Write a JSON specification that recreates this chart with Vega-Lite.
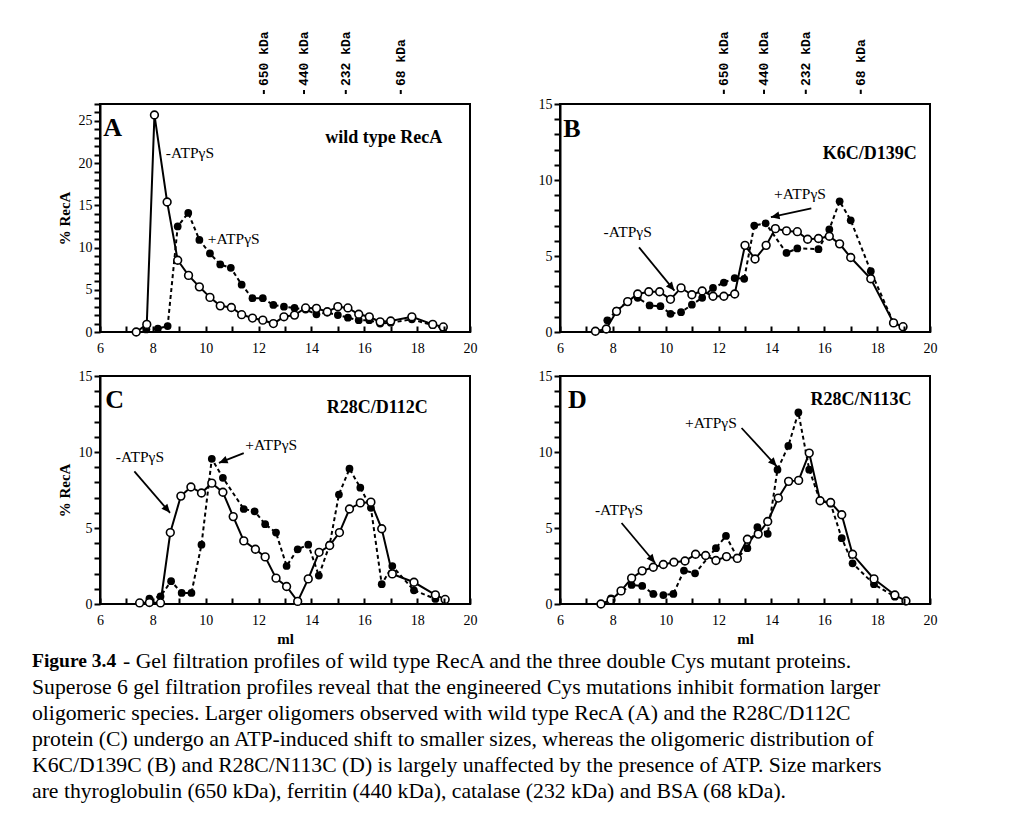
{
  "$schema": "https://vega.github.io/schema/vega-lite/v6.json",
  "background": "white",
  "padding": {"left": 32, "top": 30, "right": 10, "bottom": 10},
  "columns": 2,
  "bounds": "flush",
  "spacing": {"row": 44, "column": 90},
  "datasets": {
    "profiles": [
      {"panel":"A","series":"-ATPγS","ml":7.37,"pct":0},{"panel":"A","series":"-ATPγS","ml":7.77,"pct":0.9},{"panel":"A","series":"-ATPγS","ml":8.06,"pct":25.7},{"panel":"A","series":"-ATPγS","ml":8.54,"pct":15.4},{"panel":"A","series":"-ATPγS","ml":8.94,"pct":8.5},{"panel":"A","series":"-ATPγS","ml":9.35,"pct":6.7},{"panel":"A","series":"-ATPγS","ml":9.76,"pct":5.35},{"panel":"A","series":"-ATPγS","ml":10.16,"pct":4.1},{"panel":"A","series":"-ATPγS","ml":10.55,"pct":3.1},{"panel":"A","series":"-ATPγS","ml":10.97,"pct":2.9},{"panel":"A","series":"-ATPγS","ml":11.36,"pct":2.05},{"panel":"A","series":"-ATPγS","ml":11.77,"pct":1.65},{"panel":"A","series":"-ATPγS","ml":12.16,"pct":1.4},{"panel":"A","series":"-ATPγS","ml":12.56,"pct":1.0},{"panel":"A","series":"-ATPγS","ml":12.96,"pct":1.8},{"panel":"A","series":"-ATPγS","ml":13.36,"pct":2.0},{"panel":"A","series":"-ATPγS","ml":13.78,"pct":2.85},{"panel":"A","series":"-ATPγS","ml":14.19,"pct":2.8},{"panel":"A","series":"-ATPγS","ml":14.6,"pct":2.4},{"panel":"A","series":"-ATPγS","ml":15.0,"pct":3.0},{"panel":"A","series":"-ATPγS","ml":15.38,"pct":2.85},{"panel":"A","series":"-ATPγS","ml":15.79,"pct":2.1},{"panel":"A","series":"-ATPγS","ml":16.19,"pct":1.8},{"panel":"A","series":"-ATPγS","ml":16.6,"pct":1.2},{"panel":"A","series":"-ATPγS","ml":17.0,"pct":1.3},{"panel":"A","series":"-ATPγS","ml":17.8,"pct":1.8},{"panel":"A","series":"-ATPγS","ml":18.59,"pct":0.9},{"panel":"A","series":"-ATPγS","ml":18.99,"pct":0.6},
      {"panel":"A","series":"+ATPγS","ml":7.75,"pct":0.3},{"panel":"A","series":"+ATPγS","ml":8.19,"pct":0.4},{"panel":"A","series":"+ATPγS","ml":8.56,"pct":0.7},{"panel":"A","series":"+ATPγS","ml":8.94,"pct":12.5},{"panel":"A","series":"+ATPγS","ml":9.34,"pct":14.1},{"panel":"A","series":"+ATPγS","ml":9.76,"pct":10.9},{"panel":"A","series":"+ATPγS","ml":10.16,"pct":9.3},{"panel":"A","series":"+ATPγS","ml":10.55,"pct":8.0},{"panel":"A","series":"+ATPγS","ml":10.95,"pct":7.6},{"panel":"A","series":"+ATPγS","ml":11.36,"pct":5.6},{"panel":"A","series":"+ATPγS","ml":11.77,"pct":4.0},{"panel":"A","series":"+ATPγS","ml":12.16,"pct":4.0},{"panel":"A","series":"+ATPγS","ml":12.56,"pct":3.2},{"panel":"A","series":"+ATPγS","ml":12.96,"pct":3.0},{"panel":"A","series":"+ATPγS","ml":13.36,"pct":2.85},{"panel":"A","series":"+ATPγS","ml":13.78,"pct":2.65},{"panel":"A","series":"+ATPγS","ml":14.19,"pct":2.1},{"panel":"A","series":"+ATPγS","ml":14.6,"pct":2.3},{"panel":"A","series":"+ATPγS","ml":15.0,"pct":2.0},{"panel":"A","series":"+ATPγS","ml":15.38,"pct":1.7},{"panel":"A","series":"+ATPγS","ml":15.79,"pct":1.4},{"panel":"A","series":"+ATPγS","ml":16.19,"pct":1.4},{"panel":"A","series":"+ATPγS","ml":16.6,"pct":1.0},{"panel":"A","series":"+ATPγS","ml":17.0,"pct":1.1},{"panel":"A","series":"+ATPγS","ml":17.8,"pct":1.5},{"panel":"A","series":"+ATPγS","ml":18.59,"pct":0.8},{"panel":"A","series":"+ATPγS","ml":18.99,"pct":0.4},
      {"panel":"B","series":"-ATPγS","ml":7.34,"pct":0.05},{"panel":"B","series":"-ATPγS","ml":7.75,"pct":0.2},{"panel":"B","series":"-ATPγS","ml":8.14,"pct":1.36},{"panel":"B","series":"-ATPγS","ml":8.56,"pct":2.0},{"panel":"B","series":"-ATPγS","ml":8.94,"pct":2.5},{"panel":"B","series":"-ATPγS","ml":9.36,"pct":2.65},{"panel":"B","series":"-ATPγS","ml":9.77,"pct":2.65},{"panel":"B","series":"-ATPγS","ml":10.18,"pct":2.15},{"panel":"B","series":"-ATPγS","ml":10.58,"pct":2.9},{"panel":"B","series":"-ATPγS","ml":10.99,"pct":2.45},{"panel":"B","series":"-ATPγS","ml":11.38,"pct":2.7},{"panel":"B","series":"-ATPγS","ml":11.79,"pct":2.35},{"panel":"B","series":"-ATPγS","ml":12.2,"pct":2.35},{"panel":"B","series":"-ATPγS","ml":12.61,"pct":2.5},{"panel":"B","series":"-ATPγS","ml":13.0,"pct":5.7},{"panel":"B","series":"-ATPγS","ml":13.38,"pct":4.8},{"panel":"B","series":"-ATPγS","ml":13.8,"pct":5.7},{"panel":"B","series":"-ATPγS","ml":14.15,"pct":6.8},{"panel":"B","series":"-ATPγS","ml":14.57,"pct":6.65},{"panel":"B","series":"-ATPγS","ml":14.98,"pct":6.6},{"panel":"B","series":"-ATPγS","ml":15.37,"pct":6.1},{"panel":"B","series":"-ATPγS","ml":15.78,"pct":6.15},{"panel":"B","series":"-ATPγS","ml":16.19,"pct":6.3},{"panel":"B","series":"-ATPγS","ml":16.58,"pct":5.8},{"panel":"B","series":"-ATPγS","ml":17.0,"pct":4.9},{"panel":"B","series":"-ATPγS","ml":17.76,"pct":3.5},{"panel":"B","series":"-ATPγS","ml":18.62,"pct":0.6},{"panel":"B","series":"-ATPγS","ml":18.98,"pct":0.35},
      {"panel":"B","series":"+ATPγS","ml":7.79,"pct":0.77},{"panel":"B","series":"+ATPγS","ml":8.14,"pct":1.4},{"panel":"B","series":"+ATPγS","ml":8.56,"pct":2.0},{"panel":"B","series":"+ATPγS","ml":8.94,"pct":2.25},{"panel":"B","series":"+ATPγS","ml":9.39,"pct":1.75},{"panel":"B","series":"+ATPγS","ml":9.8,"pct":1.7},{"panel":"B","series":"+ATPγS","ml":10.18,"pct":1.2},{"panel":"B","series":"+ATPγS","ml":10.58,"pct":1.3},{"panel":"B","series":"+ATPγS","ml":10.99,"pct":1.8},{"panel":"B","series":"+ATPγS","ml":11.38,"pct":2.25},{"panel":"B","series":"+ATPγS","ml":11.79,"pct":2.9},{"panel":"B","series":"+ATPγS","ml":12.2,"pct":3.25},{"panel":"B","series":"+ATPγS","ml":12.61,"pct":3.55},{"panel":"B","series":"+ATPγS","ml":12.97,"pct":3.5},{"panel":"B","series":"+ATPγS","ml":13.35,"pct":7.0},{"panel":"B","series":"+ATPγS","ml":13.78,"pct":7.15},{"panel":"B","series":"+ATPγS","ml":14.57,"pct":5.2},{"panel":"B","series":"+ATPγS","ml":14.98,"pct":5.5},{"panel":"B","series":"+ATPγS","ml":15.78,"pct":5.45},{"panel":"B","series":"+ATPγS","ml":16.19,"pct":6.75},{"panel":"B","series":"+ATPγS","ml":16.58,"pct":8.6},{"panel":"B","series":"+ATPγS","ml":17.0,"pct":7.35},{"panel":"B","series":"+ATPγS","ml":17.76,"pct":4.0},{"panel":"B","series":"+ATPγS","ml":18.62,"pct":0.6},{"panel":"B","series":"+ATPγS","ml":18.98,"pct":0.35},
      {"panel":"C","series":"-ATPγS","ml":7.5,"pct":0.07},{"panel":"C","series":"-ATPγS","ml":7.87,"pct":0.1},{"panel":"C","series":"-ATPγS","ml":8.29,"pct":0.07},{"panel":"C","series":"-ATPγS","ml":8.66,"pct":4.7},{"panel":"C","series":"-ATPγS","ml":9.06,"pct":7.1},{"panel":"C","series":"-ATPγS","ml":9.44,"pct":7.7},{"panel":"C","series":"-ATPγS","ml":9.84,"pct":7.3},{"panel":"C","series":"-ATPγS","ml":10.23,"pct":7.95},{"panel":"C","series":"-ATPγS","ml":10.65,"pct":7.35},{"panel":"C","series":"-ATPγS","ml":11.04,"pct":5.75},{"panel":"C","series":"-ATPγS","ml":11.44,"pct":4.15},{"panel":"C","series":"-ATPγS","ml":11.88,"pct":3.6},{"panel":"C","series":"-ATPγS","ml":12.25,"pct":3.1},{"panel":"C","series":"-ATPγS","ml":12.66,"pct":1.7},{"panel":"C","series":"-ATPγS","ml":13.06,"pct":1.15},{"panel":"C","series":"-ATPγS","ml":13.48,"pct":0.17},{"panel":"C","series":"-ATPγS","ml":13.88,"pct":1.65},{"panel":"C","series":"-ATPγS","ml":14.29,"pct":3.4},{"panel":"C","series":"-ATPγS","ml":14.69,"pct":3.85},{"panel":"C","series":"-ATPγS","ml":15.06,"pct":4.7},{"panel":"C","series":"-ATPγS","ml":15.44,"pct":6.25},{"panel":"C","series":"-ATPγS","ml":15.85,"pct":6.65},{"panel":"C","series":"-ATPγS","ml":16.25,"pct":6.7},{"panel":"C","series":"-ATPγS","ml":16.66,"pct":4.95},{"panel":"C","series":"-ATPγS","ml":17.06,"pct":1.98},{"panel":"C","series":"-ATPγS","ml":17.88,"pct":1.43},{"panel":"C","series":"-ATPγS","ml":18.69,"pct":0.6},{"panel":"C","series":"-ATPγS","ml":19.06,"pct":0.3},
      {"panel":"C","series":"+ATPγS","ml":7.87,"pct":0.35},{"panel":"C","series":"+ATPγS","ml":8.29,"pct":0.5},{"panel":"C","series":"+ATPγS","ml":8.69,"pct":1.5},{"panel":"C","series":"+ATPγS","ml":9.09,"pct":0.73},{"panel":"C","series":"+ATPγS","ml":9.46,"pct":0.73},{"panel":"C","series":"+ATPγS","ml":9.84,"pct":3.9},{"panel":"C","series":"+ATPγS","ml":10.23,"pct":9.55},{"panel":"C","series":"+ATPγS","ml":10.65,"pct":8.3},{"panel":"C","series":"+ATPγS","ml":11.44,"pct":6.25},{"panel":"C","series":"+ATPγS","ml":11.85,"pct":6.1},{"panel":"C","series":"+ATPγS","ml":12.25,"pct":5.25},{"panel":"C","series":"+ATPγS","ml":12.66,"pct":4.7},{"panel":"C","series":"+ATPγS","ml":13.06,"pct":2.5},{"panel":"C","series":"+ATPγS","ml":13.48,"pct":3.6},{"panel":"C","series":"+ATPγS","ml":13.88,"pct":3.9},{"panel":"C","series":"+ATPγS","ml":14.28,"pct":1.87},{"panel":"C","series":"+ATPγS","ml":14.69,"pct":3.9},{"panel":"C","series":"+ATPγS","ml":15.04,"pct":7.2},{"panel":"C","series":"+ATPγS","ml":15.44,"pct":8.9},{"panel":"C","series":"+ATPγS","ml":15.85,"pct":7.65},{"panel":"C","series":"+ATPγS","ml":16.25,"pct":6.33},{"panel":"C","series":"+ATPγS","ml":16.66,"pct":1.3},{"panel":"C","series":"+ATPγS","ml":17.06,"pct":2.5},{"panel":"C","series":"+ATPγS","ml":17.88,"pct":0.9},{"panel":"C","series":"+ATPγS","ml":18.69,"pct":0.33},
      {"panel":"D","series":"-ATPγS","ml":7.55,"pct":0},{"panel":"D","series":"-ATPγS","ml":7.93,"pct":0.26},{"panel":"D","series":"-ATPγS","ml":8.31,"pct":0.86},{"panel":"D","series":"-ATPγS","ml":8.71,"pct":1.7},{"panel":"D","series":"-ATPγS","ml":9.11,"pct":2.18},{"panel":"D","series":"-ATPγS","ml":9.53,"pct":2.42},{"panel":"D","series":"-ATPγS","ml":9.91,"pct":2.6},{"panel":"D","series":"-ATPγS","ml":10.31,"pct":2.75},{"panel":"D","series":"-ATPγS","ml":10.73,"pct":2.83},{"panel":"D","series":"-ATPγS","ml":11.13,"pct":3.27},{"panel":"D","series":"-ATPγS","ml":11.51,"pct":3.19},{"panel":"D","series":"-ATPγS","ml":11.9,"pct":2.86},{"panel":"D","series":"-ATPγS","ml":12.3,"pct":3.12},{"panel":"D","series":"-ATPγS","ml":12.71,"pct":3.0},{"panel":"D","series":"-ATPγS","ml":13.09,"pct":4.26},{"panel":"D","series":"-ATPγS","ml":13.5,"pct":4.6},{"panel":"D","series":"-ATPγS","ml":13.86,"pct":5.43},{"panel":"D","series":"-ATPγS","ml":14.26,"pct":6.97},{"panel":"D","series":"-ATPγS","ml":14.65,"pct":8.07},{"panel":"D","series":"-ATPγS","ml":15.03,"pct":8.13},{"panel":"D","series":"-ATPγS","ml":15.43,"pct":9.93},{"panel":"D","series":"-ATPγS","ml":15.84,"pct":6.79},{"panel":"D","series":"-ATPγS","ml":16.24,"pct":6.68},{"panel":"D","series":"-ATPγS","ml":16.66,"pct":5.87},{"panel":"D","series":"-ATPγS","ml":17.07,"pct":3.27},{"panel":"D","series":"-ATPγS","ml":17.88,"pct":1.65},{"panel":"D","series":"-ATPγS","ml":18.67,"pct":0.59},{"panel":"D","series":"-ATPγS","ml":19.09,"pct":0.2},
      {"panel":"D","series":"+ATPγS","ml":7.93,"pct":0.37},{"panel":"D","series":"+ATPγS","ml":8.71,"pct":1.25},{"panel":"D","series":"+ATPγS","ml":9.11,"pct":1.19},{"panel":"D","series":"+ATPγS","ml":9.53,"pct":0.66},{"panel":"D","series":"+ATPγS","ml":9.91,"pct":0.59},{"panel":"D","series":"+ATPγS","ml":10.29,"pct":0.66},{"panel":"D","series":"+ATPγS","ml":10.69,"pct":2.2},{"panel":"D","series":"+ATPγS","ml":11.11,"pct":2.02},{"panel":"D","series":"+ATPγS","ml":11.9,"pct":3.67},{"panel":"D","series":"+ATPγS","ml":12.28,"pct":4.48},{"panel":"D","series":"+ATPγS","ml":12.71,"pct":3.05},{"panel":"D","series":"+ATPγS","ml":13.09,"pct":3.67},{"panel":"D","series":"+ATPγS","ml":13.47,"pct":5.05},{"panel":"D","series":"+ATPγS","ml":13.86,"pct":4.62},{"panel":"D","series":"+ATPγS","ml":14.23,"pct":8.84},{"panel":"D","series":"+ATPγS","ml":14.64,"pct":10.4},{"panel":"D","series":"+ATPγS","ml":15.02,"pct":12.6},{"panel":"D","series":"+ATPγS","ml":15.43,"pct":8.84},{"panel":"D","series":"+ATPγS","ml":15.84,"pct":6.8},{"panel":"D","series":"+ATPγS","ml":16.24,"pct":6.6},{"panel":"D","series":"+ATPγS","ml":16.66,"pct":4.33},{"panel":"D","series":"+ATPγS","ml":17.07,"pct":2.68},{"panel":"D","series":"+ATPγS","ml":17.88,"pct":1.3},{"panel":"D","series":"+ATPγS","ml":18.67,"pct":0.48}
    ],
    "annotations": [
      {"panel":"A","kind":"letter","t":"A","ml":6.12,"pct":24.2},
      {"panel":"A","kind":"name","t":"wild type RecA","ml":18.95,"pct":23.0},
      {"panel":"A","kind":"label","t":"-ATPγS","ml":8.49,"pct":21.2},
      {"panel":"A","kind":"label","t":"+ATPγS","ml":10.08,"pct":11.05},
      {"panel":"B","kind":"letter","t":"B","ml":6.12,"pct":13.36},
      {"panel":"B","kind":"name","t":"K6C/D139C","ml":19.5,"pct":11.7},
      {"panel":"B","kind":"label","t":"+ATPγS","ml":14.1,"pct":9.08},
      {"panel":"B","kind":"label","t":"-ATPγS","ml":7.65,"pct":6.56},
      {"panel":"C","kind":"letter","t":"C","ml":6.2,"pct":13.44},
      {"panel":"C","kind":"name","t":"R28C/D112C","ml":18.4,"pct":12.9},
      {"panel":"C","kind":"label","t":"-ATPγS","ml":6.6,"pct":9.7},
      {"panel":"C","kind":"label","t":"+ATPγS","ml":11.5,"pct":10.48},
      {"panel":"D","kind":"letter","t":"D","ml":6.3,"pct":13.44},
      {"panel":"D","kind":"name","t":"R28C/N113C","ml":19.3,"pct":13.44},
      {"panel":"D","kind":"label","t":"+ATPγS","ml":10.73,"pct":11.9},
      {"panel":"D","kind":"label","t":"-ATPγS","ml":7.32,"pct":6.2}
    ],
    "arrows": [
      {"panel":"B","ml":15.51,"pct":8.14,"ml2":13.98,"pct2":7.55},
      {"panel":"B","ml":8.99,"pct":5.57,"ml2":10.33,"pct2":2.72},
      {"panel":"C","ml":7.3,"pct":8.73,"ml2":8.65,"pct2":6.0},
      {"panel":"C","ml":11.44,"pct":9.93,"ml2":10.5,"pct2":9.28},
      {"panel":"D","ml":12.87,"pct":11.58,"ml2":14.2,"pct2":9.06},
      {"panel":"D","ml":8.33,"pct":5.33,"ml2":9.6,"pct2":2.7}
    ],
    "markers": [
      {"ml":12.2,"label":"650 kDa"},
      {"ml":13.72,"label":"440 kDa"},
      {"ml":15.3,"label":"232 kDa"},
      {"ml":17.38,"label":"68 kDa"}
    ],
    "caption": [
      {"line":1,"part":"head","text":"Figure 3.4"},
      {"line":1,"part":"tail","text":"- Gel filtration profiles of wild type RecA and the three double Cys mutant proteins."},
      {"line":2,"part":"body","text":"Superose 6 gel filtration profiles reveal that the engineered Cys mutations inhibit formation larger"},
      {"line":3,"part":"body","text":"oligomeric species.  Larger oligomers observed with wild type RecA (A) and the R28C/D112C"},
      {"line":4,"part":"body","text":"protein (C) undergo an ATP-induced shift to smaller sizes, whereas the oligomeric distribution of"},
      {"line":5,"part":"body","text":"K6C/D139C (B) and R28C/N113C (D) is largely unaffected by the presence of ATP.  Size markers"},
      {"line":6,"part":"body","text":"are thyroglobulin (650 kDa), ferritin (440 kDa), catalase (232 kDa) and BSA (68 kDa)."}
    ]
  },
  "concat": [
    {
      "width": 370, "height": 228,
      "layer": [
        {"data":{"name":"profiles"},"transform":[{"filter":"datum.panel === 'A' && datum.series === '+ATPγS'"}],
         "mark":{"type":"line","color":"black","strokeWidth":2,"strokeDash":[4,3]},
         "encoding":{
           "x":{"field":"ml","type":"quantitative","scale":{"domain":[6,20],"nice":false,"zero":false},
                "axis":{"title":null,"tickCount":28,"format":"d","labelExpr":"datum.value % 2 === 0 ? datum.label : ''","offset":-6,"domain":false,"ticks":true,"tickSize":6,"tickColor":"black","tickWidth":2,"tickOpacity":1,"zindex":2,"labelPadding":9,"labelOverlap":false,"labelFlush":false}},
           "y":{"field":"pct","type":"quantitative","scale":{"domain":[0,27],"nice":false},
                "axis":{"title":"% RecA","tickCount":27,"labelExpr":"datum.value % 5 === 0 ? datum.label : ''","tickSize":6,"labelPadding":2,"labelOverlap":false,"titleFontSize":15,"titleFontWeight":"bold","titlePadding":6}}
         }},
        {"data":{"name":"profiles"},"transform":[{"filter":"datum.panel === 'A' && datum.series === '+ATPγS'"}],
         "mark":{"type":"point","filled":true,"color":"black","size":60,"opacity":1},
         "encoding":{"x":{"field":"ml","type":"quantitative"},"y":{"field":"pct","type":"quantitative"}}},
        {"data":{"name":"profiles"},"transform":[{"filter":"datum.panel === 'A' && datum.series === '-ATPγS'"}],
         "mark":{"type":"line","color":"black","strokeWidth":2},
         "encoding":{"x":{"field":"ml","type":"quantitative"},"y":{"field":"pct","type":"quantitative"}}},
        {"data":{"name":"profiles"},"transform":[{"filter":"datum.panel === 'A' && datum.series === '-ATPγS'"}],
         "mark":{"type":"point","filled":true,"fill":"white","stroke":"black","strokeWidth":1.6,"size":60,"opacity":1},
         "encoding":{"x":{"field":"ml","type":"quantitative"},"y":{"field":"pct","type":"quantitative"}}},
        {"data":{"name":"annotations"},"transform":[{"filter":"datum.panel === 'A' && datum.kind === 'label'"}],
         "mark":{"type":"text","align":"left","baseline":"middle","fontSize":15.5},
         "encoding":{"x":{"field":"ml","type":"quantitative"},"y":{"field":"pct","type":"quantitative"},"text":{"field":"t"}}},
        {"data":{"name":"annotations"},"transform":[{"filter":"datum.panel === 'A' && datum.kind === 'letter'"}],
         "mark":{"type":"text","align":"left","baseline":"middle","fontSize":26,"fontWeight":"bold"},
         "encoding":{"x":{"field":"ml","type":"quantitative"},"y":{"field":"pct","type":"quantitative"},"text":{"field":"t"}}},
        {"data":{"name":"annotations"},"transform":[{"filter":"datum.panel === 'A' && datum.kind === 'name'"}],
         "mark":{"type":"text","align":"right","baseline":"middle","fontSize":18,"fontWeight":"bold"},
         "encoding":{"x":{"field":"ml","type":"quantitative"},"y":{"field":"pct","type":"quantitative"},"text":{"field":"t"}}},
        {"data":{"name":"markers"},
         "mark":{"type":"text","angle":270,"align":"left","baseline":"middle","font":"Liberation Mono","fontSize":13,"fontWeight":"bold"},
         "encoding":{"x":{"field":"ml","type":"quantitative"},"y":{"datum":29.13,"type":"quantitative"},"text":{"field":"label"}}},
        {"data":{"name":"markers"},
         "mark":{"type":"rule","color":"black","strokeWidth":2},
         "encoding":{"x":{"field":"ml","type":"quantitative"},"y":{"datum":28.18,"type":"quantitative"},"y2":{"datum":28.66}}}
      ]
    },
    {
      "width": 370, "height": 228,
      "layer": [
        {"data":{"name":"profiles"},"transform":[{"filter":"datum.panel === 'B' && datum.series === '+ATPγS'"}],
         "mark":{"type":"line","color":"black","strokeWidth":2,"strokeDash":[4,3]},
         "encoding":{
           "x":{"field":"ml","type":"quantitative","scale":{"domain":[6,20],"nice":false,"zero":false},
                "axis":{"title":null,"tickCount":28,"format":"d","labelExpr":"datum.value % 2 === 0 ? datum.label : ''","offset":-6,"domain":false,"ticks":true,"tickSize":6,"tickColor":"black","tickWidth":2,"tickOpacity":1,"zindex":2,"labelPadding":9,"labelOverlap":false,"labelFlush":false}},
           "y":{"field":"pct","type":"quantitative","scale":{"domain":[0,15],"nice":false},
                "axis":{"title":null,"tickCount":15,"labelExpr":"datum.value % 5 === 0 ? datum.label : ''","tickSize":6,"labelPadding":2,"labelOverlap":false}}
         }},
        {"data":{"name":"profiles"},"transform":[{"filter":"datum.panel === 'B' && datum.series === '+ATPγS'"}],
         "mark":{"type":"point","filled":true,"color":"black","size":60,"opacity":1},
         "encoding":{"x":{"field":"ml","type":"quantitative"},"y":{"field":"pct","type":"quantitative"}}},
        {"data":{"name":"profiles"},"transform":[{"filter":"datum.panel === 'B' && datum.series === '-ATPγS'"}],
         "mark":{"type":"line","color":"black","strokeWidth":2},
         "encoding":{"x":{"field":"ml","type":"quantitative"},"y":{"field":"pct","type":"quantitative"}}},
        {"data":{"name":"profiles"},"transform":[{"filter":"datum.panel === 'B' && datum.series === '-ATPγS'"}],
         "mark":{"type":"point","filled":true,"fill":"white","stroke":"black","strokeWidth":1.6,"size":60,"opacity":1},
         "encoding":{"x":{"field":"ml","type":"quantitative"},"y":{"field":"pct","type":"quantitative"}}},
        {"data":{"name":"arrows"},"transform":[{"filter":"datum.panel === 'B'"}],
         "mark":{"type":"rule","color":"black","strokeWidth":1.8},
         "encoding":{"x":{"field":"ml","type":"quantitative"},"y":{"field":"pct","type":"quantitative"},"x2":{"field":"ml2"},"y2":{"field":"pct2"}}},
        {"data":{"name":"arrows"},"transform":[{"filter":"datum.panel === 'B'"},{"calculate":"atan2((datum.ml2-datum.ml)*26.43,(datum.pct2-datum.pct)*15.2)*180/PI","as":"heading"}],
         "mark":{"type":"point","shape":"M0,0L-0.45,1L0.45,1Z","filled":true,"color":"black","size":300,"opacity":1},
         "encoding":{"x":{"field":"ml2","type":"quantitative"},"y":{"field":"pct2","type":"quantitative"},"angle":{"field":"heading","type":"quantitative","scale":null}}},
        {"data":{"name":"annotations"},"transform":[{"filter":"datum.panel === 'B' && datum.kind === 'label'"}],
         "mark":{"type":"text","align":"left","baseline":"middle","fontSize":15.5},
         "encoding":{"x":{"field":"ml","type":"quantitative"},"y":{"field":"pct","type":"quantitative"},"text":{"field":"t"}}},
        {"data":{"name":"annotations"},"transform":[{"filter":"datum.panel === 'B' && datum.kind === 'letter'"}],
         "mark":{"type":"text","align":"left","baseline":"middle","fontSize":26,"fontWeight":"bold"},
         "encoding":{"x":{"field":"ml","type":"quantitative"},"y":{"field":"pct","type":"quantitative"},"text":{"field":"t"}}},
        {"data":{"name":"annotations"},"transform":[{"filter":"datum.panel === 'B' && datum.kind === 'name'"}],
         "mark":{"type":"text","align":"right","baseline":"middle","fontSize":18,"fontWeight":"bold"},
         "encoding":{"x":{"field":"ml","type":"quantitative"},"y":{"field":"pct","type":"quantitative"},"text":{"field":"t"}}},
        {"data":{"name":"markers"},
         "mark":{"type":"text","angle":270,"align":"left","baseline":"middle","font":"Liberation Mono","fontSize":13,"fontWeight":"bold"},
         "encoding":{"x":{"field":"ml","type":"quantitative"},"y":{"datum":16.18,"type":"quantitative"},"text":{"field":"label"}}},
        {"data":{"name":"markers"},
         "mark":{"type":"rule","color":"black","strokeWidth":2},
         "encoding":{"x":{"field":"ml","type":"quantitative"},"y":{"datum":15.66,"type":"quantitative"},"y2":{"datum":15.94}}}
      ]
    },
    {
      "width": 370, "height": 228,
      "layer": [
        {"data":{"name":"profiles"},"transform":[{"filter":"datum.panel === 'C' && datum.series === '+ATPγS'"}],
         "mark":{"type":"line","color":"black","strokeWidth":2,"strokeDash":[4,3]},
         "encoding":{
           "x":{"field":"ml","type":"quantitative","scale":{"domain":[6,20],"nice":false,"zero":false},
                "axis":{"title":"ml","titleFontSize":15,"titleFontWeight":"bold","titlePadding":4,"tickCount":28,"format":"d","labelExpr":"datum.value % 2 === 0 ? datum.label : ''","offset":-6,"domain":false,"ticks":true,"tickSize":6,"tickColor":"black","tickWidth":2,"tickOpacity":1,"zindex":2,"labelPadding":9,"labelOverlap":false,"labelFlush":false}},
           "y":{"field":"pct","type":"quantitative","scale":{"domain":[0,15],"nice":false},
                "axis":{"title":"% RecA","tickCount":15,"labelExpr":"datum.value % 5 === 0 ? datum.label : ''","tickSize":6,"labelPadding":2,"labelOverlap":false,"titleFontSize":15,"titleFontWeight":"bold","titlePadding":6}}
         }},
        {"data":{"name":"profiles"},"transform":[{"filter":"datum.panel === 'C' && datum.series === '+ATPγS'"}],
         "mark":{"type":"point","filled":true,"color":"black","size":60,"opacity":1},
         "encoding":{"x":{"field":"ml","type":"quantitative"},"y":{"field":"pct","type":"quantitative"}}},
        {"data":{"name":"profiles"},"transform":[{"filter":"datum.panel === 'C' && datum.series === '-ATPγS'"}],
         "mark":{"type":"line","color":"black","strokeWidth":2},
         "encoding":{"x":{"field":"ml","type":"quantitative"},"y":{"field":"pct","type":"quantitative"}}},
        {"data":{"name":"profiles"},"transform":[{"filter":"datum.panel === 'C' && datum.series === '-ATPγS'"}],
         "mark":{"type":"point","filled":true,"fill":"white","stroke":"black","strokeWidth":1.6,"size":60,"opacity":1},
         "encoding":{"x":{"field":"ml","type":"quantitative"},"y":{"field":"pct","type":"quantitative"}}},
        {"data":{"name":"arrows"},"transform":[{"filter":"datum.panel === 'C'"}],
         "mark":{"type":"rule","color":"black","strokeWidth":1.8},
         "encoding":{"x":{"field":"ml","type":"quantitative"},"y":{"field":"pct","type":"quantitative"},"x2":{"field":"ml2"},"y2":{"field":"pct2"}}},
        {"data":{"name":"arrows"},"transform":[{"filter":"datum.panel === 'C'"},{"calculate":"atan2((datum.ml2-datum.ml)*26.43,(datum.pct2-datum.pct)*15.2)*180/PI","as":"heading"}],
         "mark":{"type":"point","shape":"M0,0L-0.45,1L0.45,1Z","filled":true,"color":"black","size":300,"opacity":1},
         "encoding":{"x":{"field":"ml2","type":"quantitative"},"y":{"field":"pct2","type":"quantitative"},"angle":{"field":"heading","type":"quantitative","scale":null}}},
        {"data":{"name":"annotations"},"transform":[{"filter":"datum.panel === 'C' && datum.kind === 'label'"}],
         "mark":{"type":"text","align":"left","baseline":"middle","fontSize":15.5},
         "encoding":{"x":{"field":"ml","type":"quantitative"},"y":{"field":"pct","type":"quantitative"},"text":{"field":"t"}}},
        {"data":{"name":"annotations"},"transform":[{"filter":"datum.panel === 'C' && datum.kind === 'letter'"}],
         "mark":{"type":"text","align":"left","baseline":"middle","fontSize":26,"fontWeight":"bold"},
         "encoding":{"x":{"field":"ml","type":"quantitative"},"y":{"field":"pct","type":"quantitative"},"text":{"field":"t"}}},
        {"data":{"name":"annotations"},"transform":[{"filter":"datum.panel === 'C' && datum.kind === 'name'"}],
         "mark":{"type":"text","align":"right","baseline":"middle","fontSize":18,"fontWeight":"bold"},
         "encoding":{"x":{"field":"ml","type":"quantitative"},"y":{"field":"pct","type":"quantitative"},"text":{"field":"t"}}}
      ]
    },
    {
      "width": 370, "height": 228,
      "layer": [
        {"data":{"name":"profiles"},"transform":[{"filter":"datum.panel === 'D' && datum.series === '+ATPγS'"}],
         "mark":{"type":"line","color":"black","strokeWidth":2,"strokeDash":[4,3]},
         "encoding":{
           "x":{"field":"ml","type":"quantitative","scale":{"domain":[6,20],"nice":false,"zero":false},
                "axis":{"title":"ml","titleFontSize":15,"titleFontWeight":"bold","titlePadding":4,"tickCount":28,"format":"d","labelExpr":"datum.value % 2 === 0 ? datum.label : ''","offset":-6,"domain":false,"ticks":true,"tickSize":6,"tickColor":"black","tickWidth":2,"tickOpacity":1,"zindex":2,"labelPadding":9,"labelOverlap":false,"labelFlush":false}},
           "y":{"field":"pct","type":"quantitative","scale":{"domain":[0,15],"nice":false},
                "axis":{"title":null,"tickCount":15,"labelExpr":"datum.value % 5 === 0 ? datum.label : ''","tickSize":6,"labelPadding":2,"labelOverlap":false}}
         }},
        {"data":{"name":"profiles"},"transform":[{"filter":"datum.panel === 'D' && datum.series === '+ATPγS'"}],
         "mark":{"type":"point","filled":true,"color":"black","size":60,"opacity":1},
         "encoding":{"x":{"field":"ml","type":"quantitative"},"y":{"field":"pct","type":"quantitative"}}},
        {"data":{"name":"profiles"},"transform":[{"filter":"datum.panel === 'D' && datum.series === '-ATPγS'"}],
         "mark":{"type":"line","color":"black","strokeWidth":2},
         "encoding":{"x":{"field":"ml","type":"quantitative"},"y":{"field":"pct","type":"quantitative"}}},
        {"data":{"name":"profiles"},"transform":[{"filter":"datum.panel === 'D' && datum.series === '-ATPγS'"}],
         "mark":{"type":"point","filled":true,"fill":"white","stroke":"black","strokeWidth":1.6,"size":60,"opacity":1},
         "encoding":{"x":{"field":"ml","type":"quantitative"},"y":{"field":"pct","type":"quantitative"}}},
        {"data":{"name":"arrows"},"transform":[{"filter":"datum.panel === 'D'"}],
         "mark":{"type":"rule","color":"black","strokeWidth":1.8},
         "encoding":{"x":{"field":"ml","type":"quantitative"},"y":{"field":"pct","type":"quantitative"},"x2":{"field":"ml2"},"y2":{"field":"pct2"}}},
        {"data":{"name":"arrows"},"transform":[{"filter":"datum.panel === 'D'"},{"calculate":"atan2((datum.ml2-datum.ml)*26.43,(datum.pct2-datum.pct)*15.2)*180/PI","as":"heading"}],
         "mark":{"type":"point","shape":"M0,0L-0.45,1L0.45,1Z","filled":true,"color":"black","size":300,"opacity":1},
         "encoding":{"x":{"field":"ml2","type":"quantitative"},"y":{"field":"pct2","type":"quantitative"},"angle":{"field":"heading","type":"quantitative","scale":null}}},
        {"data":{"name":"annotations"},"transform":[{"filter":"datum.panel === 'D' && datum.kind === 'label'"}],
         "mark":{"type":"text","align":"left","baseline":"middle","fontSize":15.5},
         "encoding":{"x":{"field":"ml","type":"quantitative"},"y":{"field":"pct","type":"quantitative"},"text":{"field":"t"}}},
        {"data":{"name":"annotations"},"transform":[{"filter":"datum.panel === 'D' && datum.kind === 'letter'"}],
         "mark":{"type":"text","align":"left","baseline":"middle","fontSize":26,"fontWeight":"bold"},
         "encoding":{"x":{"field":"ml","type":"quantitative"},"y":{"field":"pct","type":"quantitative"},"text":{"field":"t"}}},
        {"data":{"name":"annotations"},"transform":[{"filter":"datum.panel === 'D' && datum.kind === 'name'"}],
         "mark":{"type":"text","align":"right","baseline":"middle","fontSize":18,"fontWeight":"bold"},
         "encoding":{"x":{"field":"ml","type":"quantitative"},"y":{"field":"pct","type":"quantitative"},"text":{"field":"t"}}}
      ]
    },
    {
      "width": 370, "height": 156,
      "view": {"stroke": null},
      "data": {"name": "caption"},
      "encoding": {
        "y": {"field": "line", "type": "ordinal", "axis": null},
        "x": {"datum": 0, "type": "quantitative", "scale": {"domain": [0, 1]}, "axis": null},
        "text": {"field": "text"}
      },
      "layer": [
        {"transform": [{"filter": "datum.part === 'head'"}], "mark": {"type": "text", "align": "left", "baseline": "middle", "fontSize": 19.5, "fontWeight": "bold", "dx": -68}},
        {"transform": [{"filter": "datum.part === 'tail'"}], "mark": {"type": "text", "align": "left", "baseline": "middle", "fontSize": 21.7, "dx": 23}},
        {"transform": [{"filter": "datum.part === 'body'"}], "mark": {"type": "text", "align": "left", "baseline": "middle", "fontSize": 21.7, "dx": -68}}
      ]
    }
  ],
  "config": {
    "font": "Liberation Serif",
    "view": {"stroke": "black", "strokeWidth": 2},
    "axis": {"zindex": 1, "domainColor": "black", "domainWidth": 2, "ticks": true, "tickColor": "black", "tickWidth": 2, "tickOpacity": 1, "labelColor": "black", "titleColor": "black", "labelFont": "Liberation Serif", "titleFont": "Liberation Serif", "labelFontSize": 14, "grid": false},
    "text": {"color": "black", "font": "Liberation Serif"}
  }
}
